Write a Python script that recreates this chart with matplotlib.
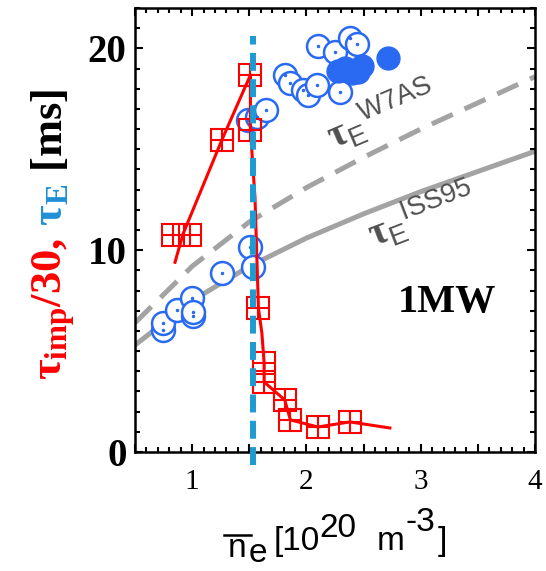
import numpy as np
import matplotlib
matplotlib.use('Agg')
import matplotlib.pyplot as plt
from matplotlib.lines import Line2D
from matplotlib.ticker import MultipleLocator, FuncFormatter

plt.rcParams['mathtext.fontset'] = 'custom'
plt.rcParams['mathtext.rm'] = 'Liberation Sans'
plt.rcParams['mathtext.it'] = 'Liberation Sans:italic'
plt.rcParams['mathtext.bf'] = 'Liberation Serif:bold'

W, H = 546, 571

# ---- data ----
# tau_imp/30, red squares
imp_ne = [0.83, 0.98, 1.26, 1.51, 1.51, 1.58, 1.63, 1.63, 1.81, 1.86, 2.10, 2.38]
imp_tau = [10.75, 10.75, 15.46, 18.68, 15.96, 7.14, 4.41, 3.47, 2.58, 1.59, 1.24, 1.49]
# red guide line
imp_line_ne = [0.85, 0.92, 1.26, 1.51, 1.51, 1.55, 1.58, 1.61, 1.63, 1.63, 1.81, 1.86, 2.10, 2.38, 2.73]
imp_line_tau = [9.4, 10.8, 15.46, 18.68, 15.96, 12.6, 7.14, 5.9, 4.41, 3.47, 2.58, 1.59, 1.24, 1.49, 1.19]

# tau_E, hollow blue circles
te_ne = [0.745, 0.745, 0.87, 1.0, 1.01, 1.01, 1.26, 1.51, 1.53,
         1.49, 1.57, 1.65, 1.81, 1.86, 1.97, 2.01, 2.09, 2.29,
         2.10, 2.25, 2.38, 2.44]
te_tau = [6.05, 6.39, 7.04, 7.63, 6.74, 6.94, 8.87, 10.16, 9.17,
          16.45, 16.6, 16.95, 18.68, 18.29, 17.94, 17.69, 18.19, 17.84,
          20.12, 19.82, 20.52, 20.22]
# tau_E, filled blue circles
tef_ne = [2.28, 2.34, 2.40, 2.45, 2.49, 2.71]
tef_tau = [18.9, 19.05, 18.8, 18.85, 19.15, 19.52]

# scaling curves
sc_ne = [0.5, 1.0, 1.5, 2.0, 2.5, 3.0, 3.5, 4.0]
w7as_tau = [6.4, 9.2, 11.4, 13.1, 14.6, 16.0, 17.3, 18.6]
iss95_tau = [5.3, 7.5, 9.2, 10.6, 11.8, 12.9, 13.9, 14.9]

ne_crit = 1.53

RED = '#ff0000'
BLUE = '#2a6af2'
GREY = '#a3a3a3'

fig = plt.figure(figsize=(W / 100, H / 100), dpi=100)
ax = fig.add_axes([135 / W, 1 - 452 / H, 400 / W, 444 / H])

# scaling lines
l1, = ax.plot(sc_ne, w7as_tau, color=GREY, lw=3.6, solid_capstyle='butt', zorder=1)
l1.set_dashes((4.6, 2.6))
ax.plot(sc_ne, iss95_tau, color=GREY, lw=3.6, zorder=1)

# tau_E circles
ax.plot(te_ne, te_tau, 'o', ms=16.5, mfc='white', mec=BLUE, mew=1.8, ls='none', zorder=3)
ax.plot(te_ne, te_tau, '.', ms=3, color=BLUE, ls='none', zorder=3)
ax.plot(tef_ne, tef_tau, 'o', ms=16.5, mfc=BLUE, mec=BLUE, ls='none', zorder=3)

# tau_imp/30
ax.plot(imp_line_ne, imp_line_tau, color=RED, lw=2.2, zorder=4)
ax.plot(imp_ne, imp_tau, 's', ms=16.5, mfc='none', mec=RED, mew=1.5, ls='none', zorder=5)
ax.plot(imp_ne, imp_tau, '+', ms=16.5, mec=RED, mew=1.5, ls='none', zorder=5)

# critical density line
vl, = ax.plot([ne_crit, ne_crit], [-0.65, 20.6], color='#1f9bd2', lw=4.3,
              zorder=6, clip_on=False)
vl.set_dashes((3.0, 1.4))

ax.set_xlim(0.5, 4.0)
ax.set_ylim(0, 22)

ax.xaxis.set_major_locator(MultipleLocator(0.5))
ax.xaxis.set_minor_locator(MultipleLocator(0.1))
ax.xaxis.set_major_formatter(FuncFormatter(lambda v, p: '%d' % v if abs(v - round(v)) < 1e-6 else ''))
ax.yaxis.set_major_locator(MultipleLocator(10))
ax.yaxis.set_minor_locator(MultipleLocator(1))

ax.tick_params(which='both', direction='in', top=True, right=True, width=1.5)
ax.tick_params(which='major', length=6)
ax.tick_params(which='minor', length=3.5)
ax.tick_params(axis='x', which='major', pad=12)
ax.tick_params(axis='y', which='major', pad=6)
for s in ax.spines.values():
    s.set_linewidth(1.8)

for lab in ax.get_xticklabels():
    lab.set_fontfamily('Liberation Serif')
    lab.set_fontsize(21)
for lab in ax.get_yticklabels():
    lab.set_fontfamily('Liberation Serif')
    lab.set_fontweight('bold')
    lab.set_fontsize(28)

# annotations
ax.text(3.23, 7.4, '1MW', fontfamily='Liberation Serif', fontweight='bold',
        fontsize=29, ha='center', va='center')
ax.text(2.66, 16.7, r'$\mathbf{\tau}_\mathrm{E}{}^\mathrm{W7AS}$', color='#505050',
        fontsize=28, rotation=23, ha='center', va='center', rotation_mode='anchor')
ax.text(3.01, 11.75, r'$\mathbf{\tau}_\mathrm{E}{}^\mathrm{ISS95}$', color='#505050',
        fontsize=28, rotation=21, ha='center', va='center', rotation_mode='anchor')

fig.canvas.draw()
renderer = fig.canvas.get_renderer()

# multi-coloured y label, pieces stacked bottom to top
parts = [(r'$\mathbf{\tau_{imp}/30,}$', RED),
         (r'$\ \mathbf{\tau_E}$', '#1f8fd6'),
         (r'$\ \mathbf{[ms]}$', 'black')]
y_start = 380.0
x_base = 62.0
texts = []
y0 = y_start
for txt, col in parts:
    t = fig.text(x_base / W, 1 - y0 / H, txt, color=col, fontsize=32,
                 rotation=90, rotation_mode='anchor', ha='left', va='baseline')
    bb = t.get_window_extent(renderer)
    y0 = H - bb.y1
    texts.append(t)
# shift so the label begins where the reference does
shift = (H - y_start) - texts[0].get_window_extent(renderer).y0
for t in texts:
    x, y = t.get_position()
    t.set_position((x, y + shift / H))

# x label, written piece by piece (full-size super/subscripts)
# (text, gap before it in px, baseline px)
xl_parts = [('n', 0, 557), ('e', 2, 562), ('[10', 6, 550), ('20', 0, 537),
            ('m', 20, 550), ('-3', 1, 531), (']', 3, 550)]
x0 = 228.0
for txt, gap, yp in xl_parts:
    x0 += gap
    t = fig.text(x0 / W, 1 - yp / H, txt, fontfamily='Liberation Sans',
                 fontsize=24, ha='left', va='baseline')
    bb = t.get_window_extent(renderer)
    if txt == 'n':
        fig.lines.append(Line2D([(bb.x0 - 4) / W, (bb.x1 + 4) / W], [1 - 535 / H, 1 - 535 / H],
                                color='black', lw=1.8, transform=fig.transFigure))
    x0 = bb.x1

fig.savefig('out.png', dpi=100)
